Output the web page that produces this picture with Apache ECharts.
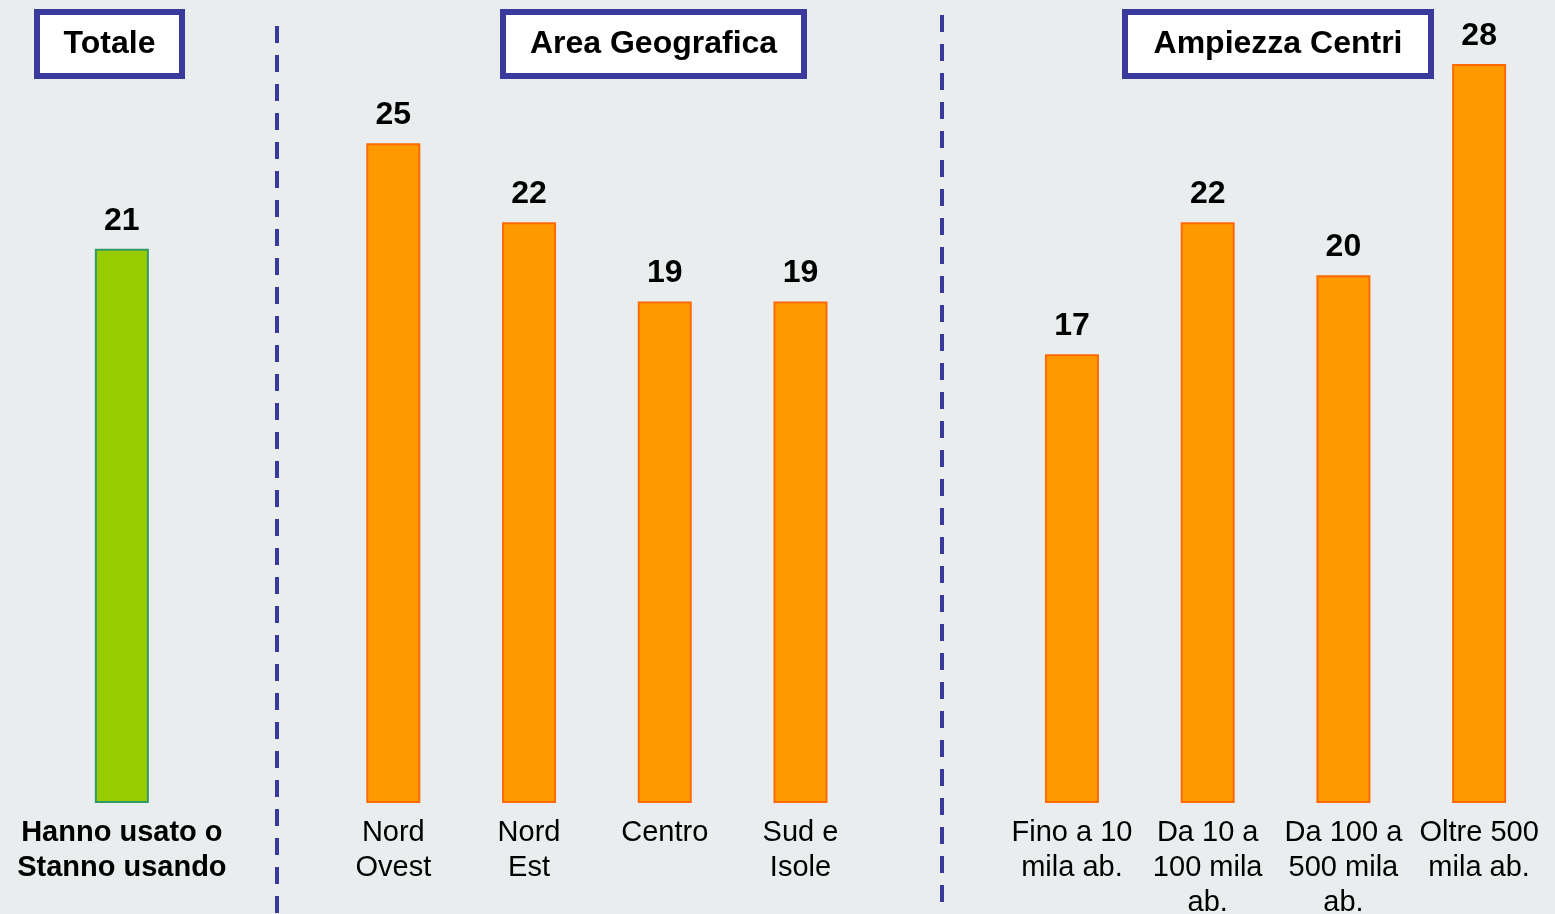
<!DOCTYPE html>
<html lang="it">
<head>
  <meta charset="UTF-8">
  <title>Hanno usato o stanno usando</title>
  <script src="https://cdn.jsdelivr.net/npm/echarts@6/dist/echarts.min.js"></script>
  <style>
    html, body { margin: 0; padding: 0; background: #e9edee; }
    #main { width: 1555px; height: 914px; }
  </style>
</head>
<body>
  <div id="main"></div>
  <script>
    // gruppi del grafico
    var totaleLabels = ['Hanno usato o\nStanno usando'];
    var totaleValues = [21];
    var areaLabels = ['Nord\nOvest', 'Nord\nEst', 'Centro', 'Sud e\nIsole'];
    var areaValues = [25, 22, 19, 19];
    var ampiezzaLabels = ['Fino a 10\nmila ab.', 'Da 10 a\n100 mila\nab.', 'Da 100 a\n500 mila\nab.', 'Oltre 500\nmila ab.'];
    var ampiezzaValues = [17, 22, 20, 28];
    var groupTitles = ['Totale', 'Area Geografica', 'Ampiezza Centri'];

    // slot vuoti fra i gruppi
    var categories = totaleLabels.concat([''], areaLabels, [''], ampiezzaLabels);
    var values = totaleValues.concat([null], areaValues, [null], ampiezzaValues);

    var boxColor = '#3a3a9c';
    var font = '"Liberation Sans", Arial, sans-serif';

    var barData = values.map(function (v, i) {
      if (v === null) return '-';
      var green = i === 0;
      return {
        value: v,
        itemStyle: {
          color: green ? '#99cc00' : '#ff9900',
          borderColor: green ? '#339966' : '#ff6a00',
          borderWidth: 2
        }
      };
    });

    function titleBox(x, w, text) {
      return {
        type: 'group',
        children: [
          { type: 'rect', shape: { x: x, y: 12, width: w, height: 64 },
            style: { fill: '#fff', stroke: boxColor, lineWidth: 6 } },
          { type: 'text', x: x + w / 2, y: 44,
            style: { text: text, fill: '#000', font: 'bold 32px ' + font, align: 'center', verticalAlign: 'middle' } }
        ]
      };
    }

    function divider(x, y1, y2) {
      return {
        type: 'line',
        shape: { x1: x, y1: y1, x2: x, y2: y2 },
        style: { stroke: boxColor, lineWidth: 4, lineDash: [17, 12] }
      };
    }

    var chart = echarts.init(document.getElementById('main'));
    chart.setOption({
      backgroundColor: '#e9edee',
      animation: false,
      grid: { left: 54, right: 8, top: 64, bottom: 111, outerBoundsMode: 'none', containLabel: false },
      xAxis: {
        type: 'category',
        data: categories,
        axisLine: { show: false },
        axisTick: { show: false },
        axisLabel: {
          interval: 0,
          margin: 12,
          verticalAlign: 'top',
          color: '#000',
          fontFamily: font,
          fontSize: 29,
          fontWeight: 'normal',
          lineHeight: 35,
          formatter: function (v, i) {
            // solo il totale è in grassetto
            return i === 0 ? '{b|' + v.split('\n').join('}\n{b|') + '}' : v;
          },
          rich: {
            b: { fontWeight: 'bold', fontSize: 29, lineHeight: 35, fontFamily: font, color: '#000' }
          }
        }
      },
      yAxis: {
        type: 'value',
        min: 0,
        max: 28,
        show: false
      },
      series: [{
        type: 'bar',
        data: barData,
        barWidth: 54,
        label: {
          show: true,
          position: 'top',
          distance: 12,
          color: '#000',
          fontFamily: font,
          fontWeight: 'bold',
          fontSize: 32
        }
      }],
      graphic: [
        titleBox(37, 145, groupTitles[0]),
        titleBox(503, 301, groupTitles[1]),
        titleBox(1125, 306, groupTitles[2]),
        divider(277, 26, 914),
        divider(942, 15, 910)
      ]
    });
  </script>
</body>
</html>
